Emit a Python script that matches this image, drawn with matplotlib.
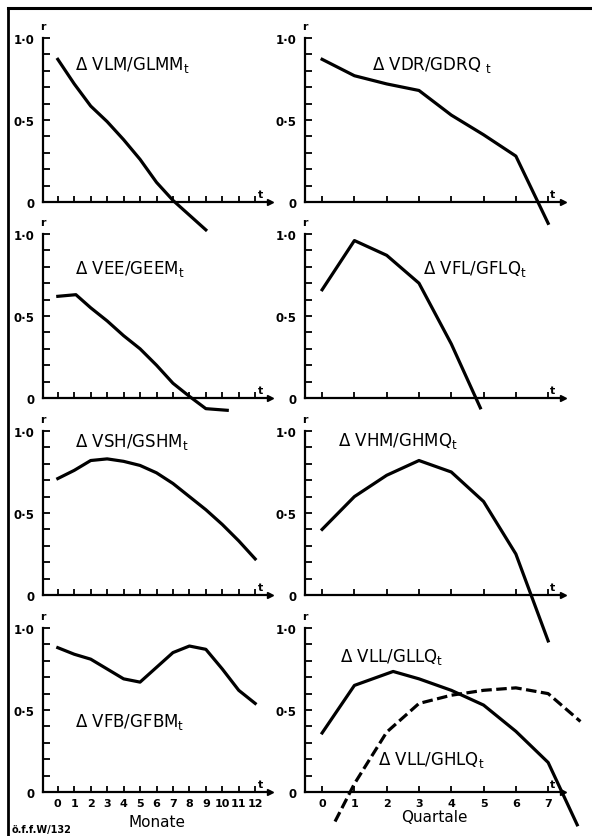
import numpy as np
import matplotlib
matplotlib.use('Agg')
import matplotlib.pyplot as plt
from matplotlib.ticker import MultipleLocator, FixedLocator

plt.rcParams['font.family'] = ['DejaVu Sans']
plt.rcParams['mathtext.default'] = 'regular'

# Monate (linke Spalte)
monate = list(range(0, 13))
vlm_t = [0, 1, 2, 3, 4, 5, 6, 7, 8, 9]
vlm_r = [0.87, 0.72, 0.585, 0.49, 0.38, 0.26, 0.12, 0.01, -0.08, -0.17]
vee_t = [0, 1.1, 2, 3, 4, 5, 6, 7, 8, 9, 10.3]
vee_r = [0.62, 0.63, 0.55, 0.47, 0.38, 0.30, 0.20, 0.09, 0.01, -0.065, -0.075]
vsh_t = monate
vsh_r = [0.71, 0.76, 0.82, 0.83, 0.815, 0.79, 0.745, 0.68, 0.60, 0.52, 0.43, 0.33, 0.22]
vfb_t = monate
vfb_r = [0.88, 0.84, 0.81, 0.75, 0.69, 0.67, 0.76, 0.85, 0.89, 0.87, 0.75, 0.62, 0.54]

# Quartale (rechte Spalte)
quartale = list(range(0, 8))
vdr_t = quartale
vdr_r = [0.87, 0.77, 0.72, 0.68, 0.53, 0.41, 0.28, -0.13]
vfl_t = [0, 1, 2, 3, 4, 4.9]
vfl_r = [0.66, 0.96, 0.87, 0.70, 0.33, -0.06]
vhm_t = quartale
vhm_r = [0.40, 0.60, 0.73, 0.82, 0.75, 0.57, 0.25, -0.28]
gllq_t = [0, 1, 2.2, 3, 4, 5, 6, 7, 7.9]
gllq_r = [0.36, 0.65, 0.735, 0.69, 0.62, 0.53, 0.37, 0.18, -0.20]
ghlq_t = [0.4, 1, 2, 3, 4, 5, 6, 7, 8]
ghlq_r = [-0.18, 0.05, 0.365, 0.54, 0.59, 0.62, 0.635, 0.60, 0.43]

y_labels = ['0', '0·5', '1·0']

W, H = 592, 837
fig = plt.figure(figsize=(W / 100, H / 100), dpi=100)

# Rahmen
fig.add_artist(plt.Line2D([8 / W, 1.0], [1 - 9 / H, 1 - 9 / H], color='black', lw=2.2))
fig.add_artist(plt.Line2D([8 / W, 8 / W], [1 - 9 / H, 0.0], color='black', lw=2.0))

rows_px = [203, 399, 596, 793]
h_px = 164


def make_ax(col, row):
    base = rows_px[row]
    if col == 0:
        x0, x1 = 43, 270
        xlim = (-0.9, 12.9)
        ticks = monate
    else:
        x0, x1 = 305, 563
        xlim = (-0.53, 7.46)
        ticks = quartale
    ax = fig.add_axes([x0 / W, 1 - base / H, (x1 - x0) / W, h_px / H])
    ax.set_xlim(*xlim)
    ax.set_ylim(0, 1)
    ax.patch.set_visible(False)
    for s in ['top', 'right']:
        ax.spines[s].set_visible(False)
    for s in ['left', 'bottom']:
        ax.spines[s].set_linewidth(1.6)
    ax.yaxis.set_major_locator(FixedLocator([0, 0.5, 1.0]))
    ax.yaxis.set_minor_locator(MultipleLocator(0.1))
    ax.set_yticklabels(y_labels, fontsize=8.5, fontweight='bold')
    ax.xaxis.set_major_locator(FixedLocator(ticks))
    ax.tick_params(axis='both', which='both', direction='in', width=1.3)
    ax.tick_params(axis='y', which='both', length=5, pad=6)
    ax.tick_params(axis='x', which='major', length=4, pad=4)
    if row == 3:
        ax.set_xticklabels([str(t) for t in ticks], fontsize=8, fontweight='bold')
    else:
        ax.set_xticklabels([])
    # Pfeil und Achsenbezeichnungen
    ax.plot(1.0, 0, '>', color='black', ms=5, transform=ax.transAxes, clip_on=False)
    ax.text(0, 1.04, 'r', transform=ax.transAxes, ha='center', va='bottom', fontsize=8, fontweight='bold')
    ax.text(0.96, 0.02, 't', transform=ax.transAxes, ha='center', va='bottom', fontsize=8, fontweight='bold')
    return ax


lw = 2.3
lab = dict(fontsize=12, va='center', ha='left')

ax = make_ax(0, 0)
ax.plot(vlm_t, vlm_r, color='black', lw=lw, clip_on=False)
ax.text(0.14, 0.84, 'Δ VLM/GLMM$_t$', transform=ax.transAxes, **lab)

ax = make_ax(1, 0)
ax.plot(vdr_t, vdr_r, color='black', lw=lw, clip_on=False)
ax.text(0.26, 0.84, 'Δ VDR/GDRQ $_t$', transform=ax.transAxes, **lab)

ax = make_ax(0, 1)
ax.plot(vee_t, vee_r, color='black', lw=lw, clip_on=False)
ax.text(0.14, 0.79, 'Δ VEE/GEEM$_t$', transform=ax.transAxes, **lab)

ax = make_ax(1, 1)
ax.plot(vfl_t, vfl_r, color='black', lw=lw, clip_on=False)
ax.text(0.457, 0.79, 'Δ VFL/GFLQ$_t$', transform=ax.transAxes, **lab)

ax = make_ax(0, 2)
ax.plot(vsh_t, vsh_r, color='black', lw=lw, clip_on=False)
ax.text(0.14, 0.94, 'Δ VSH/GSHM$_t$', transform=ax.transAxes, **lab)

ax = make_ax(1, 2)
ax.plot(vhm_t, vhm_r, color='black', lw=lw, clip_on=False)
ax.text(0.128, 0.945, 'Δ VHM/GHMQ$_t$', transform=ax.transAxes, **lab)

ax = make_ax(0, 3)
ax.plot(vfb_t, vfb_r, color='black', lw=lw, clip_on=False)
ax.text(0.14, 0.43, 'Δ VFB/GFBM$_t$', transform=ax.transAxes, **lab)
ax.set_xlabel('Monate', fontsize=11, labelpad=5)

ax = make_ax(1, 3)
ax.plot(gllq_t, gllq_r, color='black', lw=lw, clip_on=False)
ax.plot(ghlq_t, ghlq_r, color='black', lw=lw, dashes=(3.3, 1.4), clip_on=False)
ax.text(0.136, 0.83, 'Δ VLL/GLLQ$_t$', transform=ax.transAxes, **lab)
ax.text(0.283, 0.20, 'Δ VLL/GHLQ$_t$', transform=ax.transAxes, **lab)
ax.set_xlabel('Quartale', fontsize=11, labelpad=1)

fig.text(12 / W, 1 - 830 / H, 'ö.f.f.W/132', fontsize=7, fontweight='bold', va='center', ha='left')

fig.savefig('out.png', dpi=100)
